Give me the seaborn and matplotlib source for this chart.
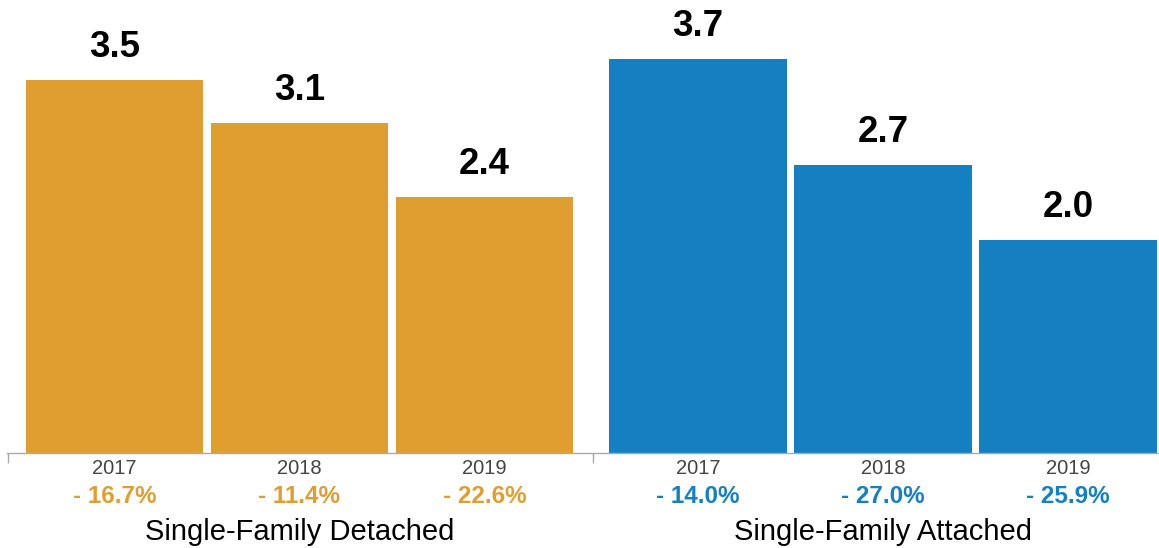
import matplotlib
matplotlib.use("Agg")
import matplotlib.pyplot as plt
import seaborn as sns
import pandas as pd

sns.set_theme(style="white")
plt.rcParams['font.family'] = ['Liberation Sans', 'DejaVu Sans']

groups = ["Single-Family Detached", "Single-Family Attached"]
years = ["2017", "2018", "2019"]
detached_values = [3.5, 3.1, 2.4]
attached_values = [3.7, 2.7, 2.0]
detached_changes = ["- 16.7%", "- 11.4%", "- 22.6%"]
attached_changes = ["- 14.0%", "- 27.0%", "- 25.9%"]
colors = ["#E09E30", "#1580C1"]

W, H = 1159, 548
fig = plt.figure(figsize=(W / 100, H / 100), dpi=100)

base_y = 453
ax_bottom = (H - base_y) / H
ax_height = base_y / H
px_per_unit = 185.0

panels = [
    (7, 585, 0.581, groups[0], detached_values, detached_changes, colors[0]),
    (592, 567, 0.573, groups[1], attached_values, attached_changes, colors[1]),
]

for left_px, width_px, offset, gname, vals, changes, col in panels:
    ax = fig.add_axes([left_px / W, ax_bottom, width_px / W, ax_height])
    df = pd.DataFrame({"year": years, "value": vals})
    sns.barplot(data=df, x="year", y="value", color=col, saturation=1,
                width=0.957, ax=ax, edgecolor="none", linewidth=0)
    units = width_px / px_per_unit
    ax.set_xlim(-offset, -offset + units)
    ax.set_ylim(0, base_y / 106.5)
    for s in ["top", "right", "left"]:
        ax.spines[s].set_visible(False)
    ax.spines["bottom"].set_color("#aaaaaa")
    ax.spines["bottom"].set_linewidth(1.0)
    ax.set_xticks([-offset + 0.003])
    ax.set_xticklabels([""])
    ax.tick_params(axis="x", bottom=True, length=7, color="#aaaaaa", width=1.0,
                   direction="out")
    ax.set_yticks([])
    ax.set_xlabel("")
    ax.set_ylabel("")
    for i, v in enumerate(vals):
        ax.annotate(f"{v:.1f}", (i, v), xytext=(0, 11), textcoords="offset points",
                    ha="center", va="bottom", fontsize=26.5, fontweight="bold",
                    color="black")
        ax.annotate(years[i], (i, 0), xytext=(0, -16 / 1.389), textcoords="offset points",
                    ha="center", va="center", fontsize=14.5, color="#444444",
                    annotation_clip=False)
        ax.annotate(changes[i], (i, 0), xytext=(0, -44 / 1.389), textcoords="offset points",
                    ha="center", va="center", fontsize=17.5, fontweight="bold",
                    color=col, annotation_clip=False)
    ax.annotate(gname, (1, 0), xytext=(0, -79 / 1.389), textcoords="offset points",
                ha="center", va="center", fontsize=21, color="black",
                annotation_clip=False)

fig.savefig("out.png", dpi=100)
